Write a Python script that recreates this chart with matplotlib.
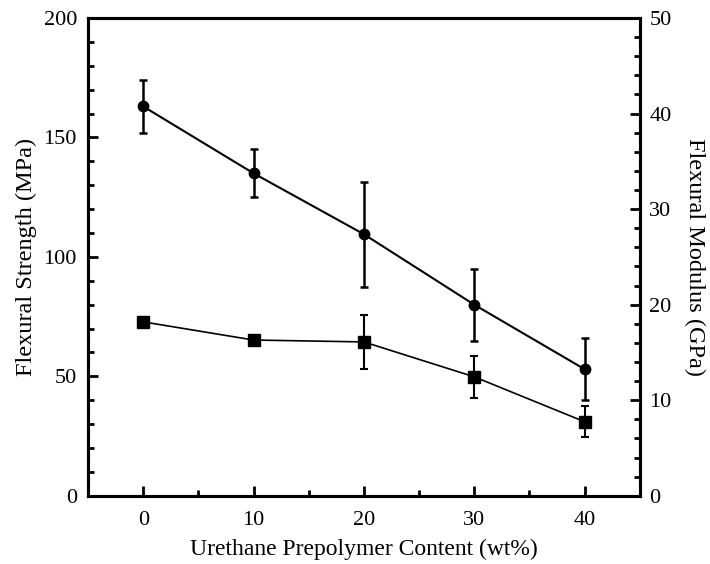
import matplotlib
matplotlib.use("Agg")
import matplotlib.pyplot as plt
from matplotlib.ticker import MultipleLocator

plt.rcParams['font.family'] = ['Liberation Serif', 'DejaVu Serif']

content = [0, 10, 20, 30, 40]
strength = [163, 135, 109.5, 80, 53]
strength_err = [11, 10, 22, 15, 13]
modulus = [18.2, 16.3, 16.1, 12.45, 7.75]
modulus_err = [0.4, 0.4, 2.8, 2.2, 1.65]

fig = plt.figure(figsize=(7.1, 5.64), dpi=100)
ax = fig.add_axes([0.124, 0.121, 0.777, 0.847])
ax2 = ax.twinx()

ax.errorbar(content, strength, yerr=strength_err, color='black', marker='o',
            markersize=7.5, linewidth=1.5, elinewidth=1.8, capsize=3, capthick=1.8, zorder=3)
ax2.errorbar(content, modulus, yerr=modulus_err, color='black', marker='s',
             markersize=8, linewidth=1.2, elinewidth=1.5, capsize=3, capthick=1.5, zorder=3)

ax.set_xlim(-5, 45)
ax.set_ylim(0, 200)
ax2.set_ylim(0, 50)

ax.xaxis.set_major_locator(MultipleLocator(10))
ax.xaxis.set_minor_locator(MultipleLocator(5))
ax.yaxis.set_major_locator(MultipleLocator(50))
ax.yaxis.set_minor_locator(MultipleLocator(10))
ax2.yaxis.set_major_locator(MultipleLocator(10))
ax2.yaxis.set_minor_locator(MultipleLocator(2))

for a in (ax, ax2):
    for s in a.spines.values():
        s.set_linewidth(2.2)
    a.tick_params(which='major', direction='in', length=7, width=2, labelsize=16, pad=8)
    a.tick_params(which='minor', direction='in', length=4, width=2)

ax.tick_params(axis='y', which='both', left=True, right=False)
ax.tick_params(axis='x', which='both', top=False)
ax.tick_params(axis='x', which='major', pad=11)
ax2.tick_params(axis='y', which='both', left=False, right=True)
ax2.tick_params(axis='y', which='major', pad=7)

ax.set_xlabel('Urethane Prepolymer Content (wt%)', fontsize=17, labelpad=6)
ax.set_ylabel('Flexural Strength (MPa)', fontsize=17.5, labelpad=5)
ax2.set_ylabel('Flexural Modulus (GPa)', fontsize=17.5, rotation=270, labelpad=24)

fig.savefig('out.png', dpi=100)
